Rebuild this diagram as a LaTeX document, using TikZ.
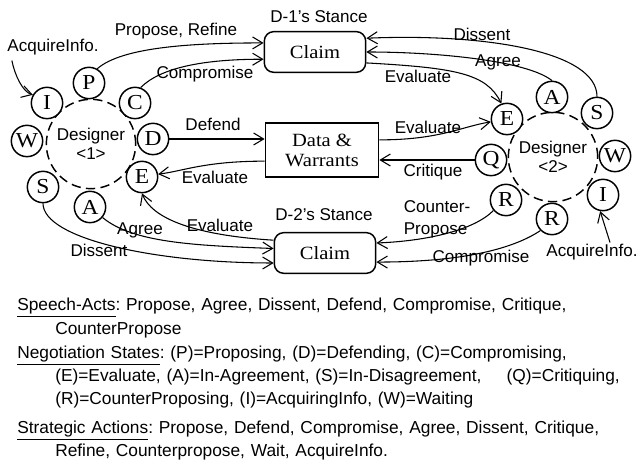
\documentclass[tikz,border=0pt]{standalone}
\usepackage{fontspec}
\setmainfont{Liberation Serif}
\newfontfamily\labelfont{Liberation Sans}
\newfontfamily\boxfont[FakeStretch=1.1]{Liberation Serif}
\usetikzlibrary{
  arrows.meta,
  positioning,
  calc
}

\begin{document}
\begin{tikzpicture}[
  x=0.75pt, y=-0.75pt,
  font=\labelfont\fontsize{12.8}{14}\selectfont,
  designer/.style={
    circle, draw, dash pattern=on 7pt off 4pt, line width=1.1pt,
    minimum size=67pt, inner sep=0pt, align=center
  },
  state/.style={
    circle, draw, line width=1.1pt, fill=white,
    minimum size=23.5pt, inner sep=0pt,
    font=\boxfont\fontsize{16}{16}\selectfont
  },
  stance/.style={
    rectangle, rounded corners=7pt, draw, line width=1.1pt,
    minimum width=76pt, minimum height=30.5pt,
    font=\boxfont\fontsize{14}{15}\selectfont
  },
  evidence/.style={
    rectangle, draw, line width=1.1pt,
    minimum width=85pt, minimum height=40.5pt, align=center,
    font=\boxfont\fontsize{14}{15}\selectfont
  },
  act/.style={-{Straight Barb[length=7.5pt,width=9pt]}, line width=0.8pt},
  actlbl/.style={inner sep=1pt},
  note/.style={
    anchor=north west, inner sep=0pt, text width=480pt, align=left,
    font=\labelfont\fontsize{13}{17.5}\selectfont\frenchspacing
  },
]
\useasboundingbox (0,0) rectangle (638,473);

% Designers
\node[designer] (dsg1) at (91,144)  {Designer\\<1>};
\node[designer] (dsg2) at (553,157) {Designer\\<2>};

% Negotiation states of designer 1
\node[state] (p1) at (89,83)   {P};
\node[state] (c1) at (135,103) {C};
\node[state] (d1) at (153,139) {D};
\node[state] (e1) at (142,177) {E};
\node[state] (a1) at (90,207)  {A};
\node[state] (s1) at (43,187)  {S};
\node[state] (w1) at (27,141)  {W};
\node[state] (i1) at (47,103)  {I};

% Negotiation states of designer 2
\node[state] (e2)  at (507,119) {E};
\node[state] (a2)  at (552,97)  {A};
\node[state] (s2)  at (597,113) {S};
\node[state] (w2)  at (615,156) {W};
\node[state] (i2)  at (603,195) {I};
\node[state] (r2b) at (552,219) {R};
\node[state] (r2a) at (506,200) {R};
\node[state] (q2)  at (491,160) {Q};

% Stances and evidence
\node[stance]   (claim1) at (315,52)  {Claim};
\node[evidence] (data)   at (322,150) {Data \&\\Warrants};
\node[stance]   (claim2) at (325,253) {Claim};
\node (stance1) at (319,17)  {D-1’s Stance};
\node (stance2) at (324,215) {D-2’s Stance};

% Speech acts around D-1's stance
\draw[act] (p1.60) .. controls +(25,-22) and +(-70,0) .. (claim1.170);
\draw[act] (c1.70) .. controls +(20,-20) and +(-60,0) .. (claim1.188);
\draw[act] (claim1.-12) .. controls +(90,5) and +(-15,-30) .. (e2.110);
\draw[act] (a2.north) .. controls +(-25,-20) and +(70,0) .. (claim1.east);
\draw[act] (s2.north) .. controls +(0,-45) and +(120,-5) .. (claim1.15);

% Speech acts around data & warrants
\draw[act] (d1) -- (d1 -| data.west);
\draw[act] (data.191) .. controls +(-60,0) and +(25,-3) .. (e1.10);
\draw[act] (data.10) .. controls +(60,0) and +(-30,5) .. (e2.190);
\draw[act] (q2) -- (q2 -| data.east);

% Speech acts around D-2's stance
\draw[act] (a1.-40) .. controls +(30,25) and +(-80,-3) .. (claim2.175);
\draw[act] (s1.south) .. controls +(0,35) and +(-120,0) .. (claim2.191);
\draw[act] (claim2.166) .. controls +(-80,-5) and +(10,25) .. (e1.south);
\draw[act] (r2a.-140) .. controls +(-20,20) and +(50,-2) .. (claim2.11);
\draw[act] (r2b.-135) .. controls +(-30,20) and +(80,0) .. (claim2.-10);

% Connector labels
\node[actlbl] (lprop)  at (176,31)  {Propose, Refine};
\node[actlbl] (lcomp1) at (205,74)  {Compromise};
\node[actlbl] (leval1) at (418,76)  {Evaluate};
\node[actlbl] (lagr1)  at (498,62)  {Agree};
\node[actlbl] (ldis1)  at (482,34)  {Dissent};
\node[actlbl] (ldef)   at (213,124) {Defend};
\node[actlbl] (leval2) at (215,177) {Evaluate};
\node[actlbl] (leval3) at (428,127) {Evaluate};
\node[actlbl] (lcrit)  at (433,172) {Critique};
\node[actlbl] (lagr2)  at (140,230) {Agree};
\node[actlbl] (ldis2)  at (99,250)  {Dissent};
\node[actlbl] (leval4) at (220,225) {Evaluate};
\node[actlbl, align=left, font=\labelfont\fontsize{12.8}{16.5}\selectfont]
  (lcounter) at (437,219) {Counter-\\Propose};
\node[actlbl] (lcomp2) at (481,258) {Compromise};

% Information gathering
\node[actlbl] (acqL) at (53,47)   {AcquireInfo.};
\node[actlbl] (acqR) at (592,252) {AcquireInfo.};
\draw[act] ($(acqL.south west)+(6,4)$) .. controls +(3,15) and +(-10,-3) .. (i1.150);
\draw[act] ($(acqR.north)+(18,0)$) -- (i2.-100);

% Legend
\node[note] (speechacts) at (17,298)
  {\underline{Speech-Acts}: Propose, Agree, Dissent, Defend, Compromise, Critique,\\
   \hspace*{28.5pt}CounterPropose};
\node[note] (negstates) at (17,345.5)
  {\underline{Negotiation States}: (P)=Proposing, (D)=Defending, (C)=Compromising,\\
   \hspace*{28.5pt}(E)=Evaluate, (A)=In-Agreement, (S)=In-Disagreement,\hspace{14.5pt} (Q)=Critiquing,\\
   \hspace*{28.5pt}(R)=CounterProposing, (I)=AcquiringInfo, (W)=Waiting};
\node[note] (stratacts) at (17,420.5)
  {\underline{Strategic Actions}: Propose, Defend, Compromise, Agree, Dissent, Critique,\\
   \hspace*{28.5pt}Refine, Counterpropose, Wait, AcquireInfo.};

\end{tikzpicture}
\end{document}
